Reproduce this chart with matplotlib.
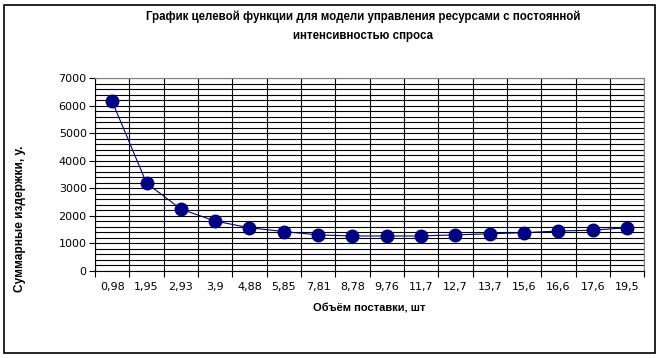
import numpy as np
import matplotlib
matplotlib.use("Agg")
from matplotlib import pyplot as plt
from matplotlib.patches import Rectangle
from matplotlib.ticker import MultipleLocator, FixedLocator

# data
categories = ['0,98', '1,95', '2,93', '3,9', '4,88', '5,85', '7,81', '8,78',
              '9,76', '11,7', '12,7', '13,7', '15,6', '16,6', '17,6', '19,5']
costs = [6150, 3180, 2240, 1800, 1560, 1420, 1300, 1260,
         1260, 1260, 1300, 1340, 1380, 1440, 1470, 1560]

title = 'График целевой функции для модели управления ресурсами с постоянной\nинтенсивностью спроса'
xlabel = 'Объём поставки, шт'
ylabel = 'Суммарные издержки, у.'

fig = plt.figure(figsize=(6.6, 3.58), dpi=100)
ax = fig.add_axes([0.144, 0.244, 0.832, 0.538])

x = np.arange(len(categories))
ax.plot(x, costs, color='#000080', lw=0.8, marker='o', markersize=9,
        markerfacecolor='#000080', markeredgecolor='#000080', zorder=3, clip_on=False)

ax.set_xlim(-0.5, len(categories) - 0.5)
ax.set_ylim(0, 7000)

# category boundaries carry ticks and vertical grid
ax.xaxis.set_major_locator(FixedLocator(np.arange(-0.5, len(categories), 1.0)))
ax.set_xticklabels([])
ax.xaxis.set_minor_locator(FixedLocator(x))
ax.set_xticklabels(categories, minor=True)
ax.tick_params(axis='x', which='major', length=4, width=0.8, direction='out', color='black')
ax.tick_params(axis='x', which='minor', length=0, pad=8, labelsize=8)

ax.yaxis.set_major_locator(MultipleLocator(1000))
ax.yaxis.set_minor_locator(MultipleLocator(200))
ax.tick_params(axis='y', which='major', length=4, width=0.8, direction='out', labelsize=8, pad=2)
ax.tick_params(axis='y', which='minor', length=0)

ax.grid(True, axis='x', which='major', color='black', lw=0.8)
ax.grid(True, axis='y', which='both', color='black', lw=0.8)
ax.set_axisbelow(True)

for side in ['top', 'right']:
    ax.spines[side].set_color('#808080')
    ax.spines[side].set_linewidth(0.8)
for side in ['left', 'bottom']:
    ax.spines[side].set_color('black')
    ax.spines[side].set_linewidth(0.8)

fig.text(0.55, 0.927, title, ha='center', va='center', linespacing=1.8,
         family='Liberation Sans', fontweight='bold', fontsize=8.3)
fig.text(0.56, 0.138, xlabel, ha='center', va='center',
         family='Liberation Sans', fontweight='bold', fontsize=8)
fig.text(0.03, 0.39, ylabel, ha='center', va='center', rotation=90,
         family='Liberation Sans', fontweight='bold', fontsize=8.6)

# outer chart frame
fig.add_artist(Rectangle((0.006, 0.014), 0.986, 0.973, transform=fig.transFigure,
                         fill=False, edgecolor='black', lw=1.2))

fig.savefig('out.png', dpi=100)
